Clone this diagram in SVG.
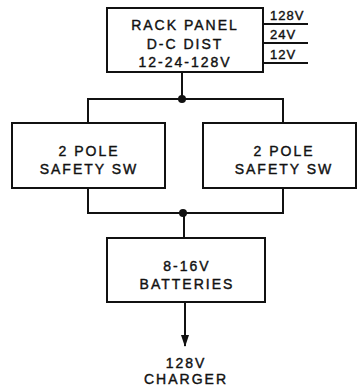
<svg xmlns="http://www.w3.org/2000/svg" width="357" height="391" viewBox="0 0 357 391">
<style>
.b{fill:#fff;stroke:#111;stroke-width:2}
.l{fill:none;stroke:#111;stroke-width:2}
text{font-family:"Liberation Sans",Arial,sans-serif;font-size:14px;fill:#111;stroke:#111;stroke-width:0.4;text-anchor:middle;letter-spacing:2px}
.s{font-size:13px;letter-spacing:1px;text-anchor:start}
</style>
<defs>
<marker id="ah" markerWidth="12" markerHeight="8" refX="11" refY="4" orient="auto" markerUnits="userSpaceOnUse">
<path d="M0,0 L12,4 L0,8 Z" fill="#111"/>
</marker>
</defs>
<g id="connectors">
<line class="l" x1="182" y1="72" x2="182" y2="99"/>
<polyline class="l" points="88,123 88,99 283,99 283,123"/>
<polyline class="l" points="88,188 88,213 283,213 283,188"/>
<line class="l" x1="184" y1="213" x2="184" y2="238"/>
<line class="l" x1="185" y1="302" x2="185" y2="346" marker-end="url(#ah)"/>
<circle cx="182" cy="99" r="4" fill="#111"/>
<circle cx="183" cy="213" r="4" fill="#111"/>
<line class="l" x1="263" y1="24" x2="308" y2="24"/>
<line class="l" x1="263" y1="43" x2="308" y2="43"/>
<line class="l" x1="263" y1="63" x2="308" y2="63"/>
</g>
<g id="rack">
<rect class="b" x="107" y="8" width="156" height="64"/>
<text x="185" y="30">RACK PANEL</text>
<text x="185" y="49">D-C DIST</text>
<text x="185" y="67">12-24-128V</text>
</g>
<g id="outputs">
<text class="s" x="270" y="20">128V</text>
<text class="s" x="270" y="39">24V</text>
<text class="s" x="270" y="59">12V</text>
</g>
<g id="sw1">
<rect class="b" x="12" y="123" width="153" height="65"/>
<text x="89" y="156">2 POLE</text>
<text x="89" y="174">SAFETY SW</text>
</g>
<g id="sw2">
<rect class="b" x="203" y="123" width="153" height="65"/>
<text x="284" y="156">2 POLE</text>
<text x="284" y="174">SAFETY SW</text>
</g>
<g id="batt">
<rect class="b" x="107" y="238" width="158" height="64"/>
<text x="187" y="271">8-16V</text>
<text x="187" y="289">BATTERIES</text>
</g>
<g id="charger">
<text x="186" y="368">128V</text>
<text x="186" y="384">CHARGER</text>
</g>
</svg>
